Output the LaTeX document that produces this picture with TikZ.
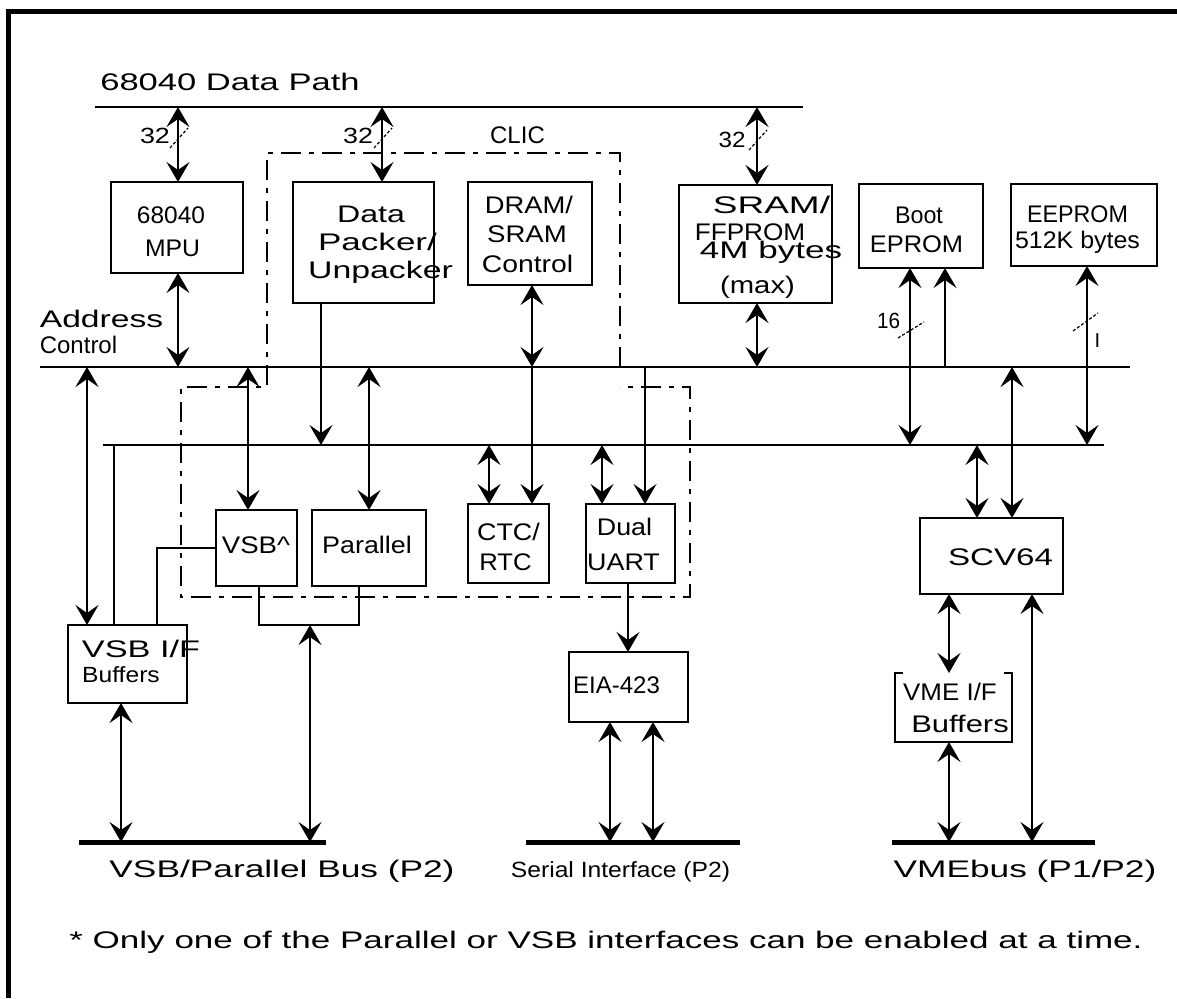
\documentclass[tikz,border=0pt]{standalone}
\usepackage{fontspec}
\setmainfont{Liberation Sans}
\usetikzlibrary{arrows.meta,calc}
\newcommand\tline[3]{\makebox[0pt][c]{\hspace*{#1}\scalebox{#2}[1]{#3}}}
\newcommand\hsx[2]{\scalebox{#1}[1]{#2}}
\newcommand\fh[1]{\rule{0pt}{#1}}
\newcommand\fd{\rule[-6pt]{0pt}{6pt}}
\begin{document}
\begin{tikzpicture}[x=1pt,y=-1pt,
  >={Stealth[length=20pt,width=23pt,inset=8pt]},
  box/.style={draw,line width=1.8pt,inner sep=0pt,outer sep=0pt,align=center},
  wire/.style={line width=1.8pt},
  bus/.style={line width=2pt},
  bar/.style={line width=5pt},
  lbl/.style={inner sep=0pt,outer sep=0pt,anchor=base},
  clic/.style={line width=1.6pt,dash pattern=on 20pt off 8pt on 5pt off 8pt},
  slash/.style={line width=1.2pt,dash pattern=on 3pt off 2pt}
]
\useasboundingbox (0,0) rectangle (1177,998);
\draw[line width=5pt] (8.5,998) -- (8.5,11.5) -- (1177,11.5);

% buses
\coordinate (dpL) at (95,107);  \coordinate (dpR) at (803,107);
\coordinate (aL) at (40,367);   \coordinate (aR) at (1130,367);
\coordinate (bL) at (103,445);  \coordinate (bR) at (1104,445);
\coordinate (vbL) at (79,842);  \coordinate (vbR) at (326,842);
\coordinate (sbL) at (526,842); \coordinate (sbR) at (740,842);
\coordinate (mbL) at (892,842); \coordinate (mbR) at (1095,842);
\draw[bus] (dpL) -- (dpR);
\draw[bus] (aL) -- (aR);
\draw[bus] (bL) -- (bR);
\draw[bar] (vbL) -- (vbR);
\draw[bar] (sbL) -- (sbR);
\draw[bar] (mbL) -- (mbR);

% CLIC outline
\draw[clic] (620,367) -- (620,153) -- (267,153) -- (267,387) -- (181,387) -- (181,597) -- (690,597) -- (690,387) -- (620,387);

% boxes
\node[box,minimum width=132pt,minimum height=91pt,font=\fontsize{24}{33}\selectfont] (mpu) at (177,227.5)
  {\fh{30pt}\tline{-12pt}{1.02}{68040}\\\tline{-9pt}{1.03}{MPU}\fd};
\node[box,minimum width=141pt,minimum height=121pt,font=\fontsize{24}{28}\selectfont] (pack) at (363.5,242.5)
  {\fh{21pt}\tline{15pt}{1.34}{Data}\\\tline{28pt}{1.46}{Packer/}\\\tline{34pt}{1.41}{Unpacker}\fd};
\node[box,minimum width=124pt,minimum height=103pt,font=\fontsize{24}{29.5}\selectfont] (dram) at (530,233.5)
  {\fh{24pt}\tline{-2pt}{1.14}{DRAM/}\\\tline{-6pt}{1.15}{SRAM}\\\tline{-5pt}{1.18}{Control}\fd};
\node[box,minimum width=153pt,minimum height=118pt,font=\fontsize{24}{27}\selectfont] (sram) at (755.5,244)
  {\fh{24pt}\tline{32pt}{1.54}{SRAM/}\\\tline{-11pt}{1.09}{FFPROM}\\[-9pt]\tline{31pt}{1.46}{4M bytes}\\[8pt]\tline{4pt}{1.22}{(max)}\fd};
\node[box,minimum width=124pt,minimum height=84pt,font=\fontsize{24}{29}\selectfont] (boot) at (921,226)
  {\fh{29pt}\tline{-4pt}{0.97}{Boot}\\\tline{-9pt}{1.06}{EPROM}\fd};
\node[box,minimum width=146pt,minimum height=82pt,font=\fontsize{24}{26}\selectfont] (eeprom) at (1084,225)
  {\fh{26pt}\tline{-13pt}{0.97}{EEPROM}\\\tline{-13pt}{1.04}{512K bytes}\fd};
\node[box,minimum width=81pt,minimum height=76pt,font=\fontsize{24}{29}\selectfont] (vsb) at (256.5,548)
  {\fh{16pt}\tline{-1pt}{1.15}{VSB\textasciicircum}\fd};
\node[box,minimum width=114pt,minimum height=76pt,font=\fontsize{24}{29}\selectfont] (par) at (369,548)
  {\fh{16pt}\tline{-4pt}{1.12}{Parallel}\fd};
\node[box,minimum width=81pt,minimum height=79pt,font=\fontsize{24}{30}\selectfont] (ctc) at (508.5,543.5)
  {\fh{29pt}\tline{0pt}{1.12}{CTC/}\\\tline{-6pt}{1.07}{RTC}\fd};
\node[box,minimum width=89pt,minimum height=79pt,font=\fontsize{24}{35}\selectfont] (uart) at (630.5,543.5)
  {\fh{24pt}\tline{-12pt}{1.12}{Dual}\\\tline{-14pt}{1.12}{UART}\fd};
\node[box,minimum width=143pt,minimum height=76pt,font=\fontsize{24}{29}\selectfont] (scv) at (991.5,556)
  {\fh{24pt}\tline{18pt}{1.38}{SCV64}\fd};
\node[box,minimum width=119pt,minimum height=78pt,font=\fontsize{24}{25}\selectfont] (vsbif) at (127.5,664)
  {\fh{17pt}\tline{27pt}{1.43}{VSB I/F}\\\tline{-13pt}{1.12}{\fontsize{22}{25}\selectfont Buffers}\fd};
\node[box,minimum width=119pt,minimum height=70pt,font=\fontsize{24}{29}\selectfont] (eia) at (628.5,687)
  {\fh{18pt}\tline{-24pt}{1.0}{EIA-423}\fd};
\node[box,draw=none,minimum width=117pt,minimum height=69pt,font=\fontsize{24}{32}\selectfont] (vmeif) at (953.5,707.5)
  {\fh{23pt}\tline{-7pt}{1.08}{VME I/F}\\\tline{13pt}{1.29}{Buffers}\fd};
\draw[line width=1.8pt] ([xshift=8pt]vmeif.north west) -- (vmeif.north west) -- (vmeif.south west)
  -- (vmeif.south east) -- (vmeif.north east) -- ([xshift=-8pt]vmeif.north east);

% columns for connectors
\coordinate (cA) at (178,0);  \coordinate (cB) at (382,0);  \coordinate (cC) at (321,0);
\coordinate (cD) at (248,0);  \coordinate (cE) at (369,0);  \coordinate (cF) at (532,0);
\coordinate (cG) at (489,0);  \coordinate (cH) at (602,0);  \coordinate (cI) at (645,0);
\coordinate (cJ) at (628,0);  \coordinate (cK) at (610,0);  \coordinate (cL) at (653,0);
\coordinate (cM) at (121,0);  \coordinate (cN) at (259,0);  \coordinate (cO) at (359,0);
\coordinate (cQ) at (114,0);  \coordinate (cR) at (157,0);  \coordinate (cS) at (87,0);
\coordinate (cT) at (910,0);  \coordinate (cU) at (945,0);  \coordinate (cV) at (1087,0);
\coordinate (cW) at (977,0);  \coordinate (cX) at (1012,0); \coordinate (cY) at (949,0);
\coordinate (cZ) at (1032,0); \coordinate (cSR) at (757,0);
\coordinate (tieY) at (0,625);
\coordinate (tie) at (310,625);

% connectors
\draw[wire,<->] (cA |- dpL) -- (cA |- mpu.north);
\draw[wire,<->] (cA |- mpu.south) -- (cA |- aL);
\draw[wire,<->] (cB |- dpL) -- (cB |- pack.north);
\draw[wire,->] (cC |- pack.south) -- (cC |- bL);
\draw[wire,<->] (cD |- aL) -- (cD |- vsb.north);
\draw[wire,<->] (cE |- aL) -- (cE |- par.north);
\draw[wire,<->] (cF |- dram.south) -- (cF |- aL);
\draw[wire,->] (cF |- aL) -- (cF |- ctc.north);
\draw[wire,<->] (cG |- bL) -- (cG |- ctc.north);
\draw[wire,<->] (cH |- bL) -- (cH |- uart.north);
\draw[wire,->] (cI |- aL) -- (cI |- uart.north);
\draw[wire,->] (cJ |- uart.south) -- (cJ |- eia.north);
\draw[wire,<->] (cK |- eia.south) -- (cK |- sbL);
\draw[wire,<->] (cL |- eia.south) -- (cL |- sbL);
\draw[wire,<->] (cM |- vsbif.south) -- (cM |- vbL);
\draw[wire] (cN |- vsb.south) -- (cN |- tieY) -- (cO |- tieY) -- (cO |- par.south);
\draw[wire,<->] (tie) -- (tie |- vbL);
\draw[wire] (cQ |- bL) -- (cQ |- vsbif.north);
\draw[wire] (vsb.west) -- (cR |- vsb.west) -- (cR |- vsbif.north);
\draw[wire,<->] (cS |- aL) -- (cS |- vsbif.north);
\draw[wire,<->] (cT |- boot.south) -- (cT |- bL);
\draw[wire,->] (cU |- aL) -- (cU |- boot.south);
\draw[wire,<->] (cV |- eeprom.south) -- (cV |- bL);
\draw[wire,<->] (cW |- bL) -- (cW |- scv.north);
\draw[wire,<->] (cX |- aL) -- (cX |- scv.north);
\draw[wire,<->] (cY |- scv.south) -- (cY |- vmeif.north);
\draw[wire,<->] (cY |- vmeif.south) -- (cY |- mbL);
\draw[wire,<->] (cZ |- scv.south) -- (cZ |- mbL);
\draw[wire,<->] (cSR |- dpL) -- (cSR |- sram.north);
\draw[wire,<->] (cSR |- sram.south) -- (cSR |- aL);

% bus width marks
\draw[slash] (170,148) -- (188,128);
\draw[slash] (374,148) -- (392,128);
\draw[slash] (749,150) -- (767,130);
\draw[slash] (898,338) -- (924,322);
\draw[slash] (1073,331) -- (1098,313);

% labels
\node[lbl,font=\fontsize{24}{29}\selectfont] (tdp) at (230,90) {\hsx{1.44}{68040 Data Path}};
\node[lbl,font=\fontsize{24}{29}\selectfont] (tclic) at (517.5,143) {CLIC};
\node[lbl,font=\fontsize{24}{29}\selectfont] (taddr) at (101.5,327) {\hsx{1.4}{Address}};
\node[lbl,font=\fontsize{24}{29}\selectfont] (tctl) at (78.5,353) {Control};
\node[lbl,font=\fontsize{22}{22}\selectfont] (t32a) at (155,143) {\hsx{1.22}{32}};
\node[lbl,font=\fontsize{22}{22}\selectfont] (t32b) at (358,143) {\hsx{1.22}{32}};
\node[lbl,font=\fontsize{22}{22}\selectfont] (t32c) at (732,147) {\hsx{1.1}{32}};
\node[lbl,font=\fontsize{22}{22}\selectfont] (t16) at (888.5,328) {\hsx{0.94}{16}};
\node[lbl,font=\fontsize{20}{20}\selectfont] (tone) at (1097.5,347) {I};
\node[lbl,font=\fontsize{24}{29}\selectfont] (tvsbbus) at (282,877) {\hsx{1.47}{VSB/Parallel Bus (P2)}};
\node[lbl,font=\fontsize{22}{29}\selectfont] (tser) at (620.5,877) {\hsx{1.12}{Serial Interface (P2)}};
\node[lbl,font=\fontsize{24}{29}\selectfont] (tvme) at (1025,877) {\hsx{1.47}{VMEbus (P1/P2)}};
\node[lbl,font=\fontsize{24}{29}\selectfont] (tnote) at (606,948) {\hsx{1.46}{* Only one of the Parallel or VSB interfaces can be enabled at a time.}};
\end{tikzpicture}
\end{document}
